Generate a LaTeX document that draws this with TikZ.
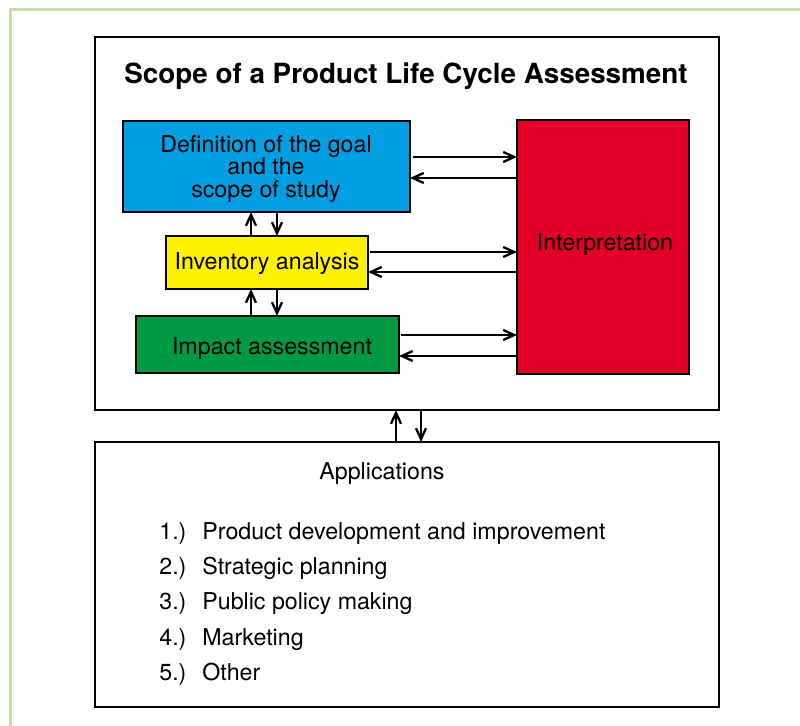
\documentclass[tikz,border=0pt]{standalone}
\usepackage{fontspec}
\setmainfont{TeX Gyre Heros}
\usetikzlibrary{arrows.meta}

\definecolor{goalBlue}{RGB}{0,159,227}
\definecolor{invYellow}{RGB}{255,242,0}
\definecolor{impGreen}{RGB}{0,153,68}
\definecolor{intRed}{RGB}{226,0,38}
\definecolor{frameGreen}{RGB}{197,223,176}

\begin{document}
\begin{tikzpicture}
  [x=0.5pt,y=-0.5pt,
   box/.style={draw,line width=1.25pt,inner sep=0pt,outer sep=0pt},
   txt/.style={font=\fontsize{11.6}{11.3}\selectfont,align=center,inner sep=0pt},
   link/.style={->,line width=1.15pt},
   >={Straight Barb[length=5.5pt,width=5pt]}]

  \clip (0,0) rectangle (800,726);
  \draw[frameGreen,line width=1.5pt] (10.5,9.5) rectangle (900,800);

  % upper frame
  \node[box,minimum width=312pt,minimum height=186.5pt] (scope) at (407,223.5) {};
  \node[font=\bfseries\fontsize{13.9}{16}\selectfont,anchor=base,inner sep=0pt] (title) at (406,84)
    {Scope of a Product Life Cycle Assessment};

  \node[box,fill=goalBlue,minimum width=143.5pt,minimum height=45.5pt] (goal) at (266.5,166.5) {};
  \node[txt] (goaltext) at (266,169) {Definition of the goal\\and the\\scope of study};
  \node[box,fill=invYellow,minimum width=101pt,minimum height=26.5pt] (inv) at (267,262.5) {};
  \node[txt] (invtext) at (267,264) {Inventory analysis};
  \node[box,fill=impGreen,minimum width=131.5pt,minimum height=28.5pt] (imp) at (267.5,344.5) {};
  \node[txt] (imptext) at (272,348.5) {Impact assessment};
  \node[box,fill=intRed,minimum width=86pt,minimum height=127pt] (interp) at (603,247) {};
  \node[txt] (interptext) at (605,245) {Interpretation};

  % lower frame
  \node[box,minimum width=312pt,minimum height=132.5pt] (apps) at (407,574.5) {};
  \node[txt,anchor=base] (appstitle) at (382,480) {Applications};
  \foreach \item [count=\i] in {Product development and improvement,
      Strategic planning,Public policy making,Marketing,Other}
  {
    \node[txt,anchor=base west] (num\i) at (159,539.5+35.2*\i-35.2) {\i.)};
    \node[txt,anchor=base west] (app\i) at (202,539.5+35.2*\i-35.2) {\item};
  }

  % to and from interpretation
  \draw[link] ([xshift=1.5pt]goal.east |- 0,157) -- (interp.west |- 0,157);
  \draw[link] (interp.west |- 0,178) -- (goal.east |- 0,178);
  \draw[link] ([xshift=1pt]inv.east |- 0,252) -- (interp.west |- 0,252);
  \draw[link] (interp.west |- 0,272) -- (inv.east |- 0,272);
  \draw[link] ([xshift=1pt]imp.east |- 0,335) -- (interp.west |- 0,335);
  \draw[link] (interp.west |- 0,356) -- (imp.east |- 0,356);

  % between the phases
  \draw[link] (inv.north -| 251,0) -- (goal.south -| 251,0);
  \draw[link] (goal.south -| 277,0) -- (inv.north -| 277,0);
  \draw[link] (imp.north -| 251,0) -- (inv.south -| 251,0);
  \draw[link] (inv.south -| 277,0) -- (imp.north -| 277,0);

  % between the frames
  \draw[link] (apps.north -| 396,0) -- (scope.south -| 396,0);
  \draw[link] (scope.south -| 421,0) -- (apps.north -| 421,0);
\end{tikzpicture}
\end{document}
